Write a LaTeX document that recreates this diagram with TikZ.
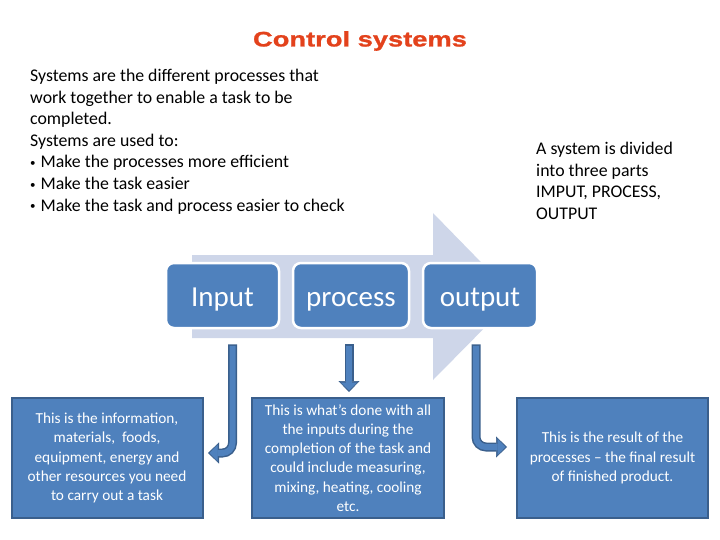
\documentclass[tikz,border=0pt]{standalone}
\usepackage{fontspec}
\setmainfont{Carlito}
\newfontfamily\titlefont[FakeStretch=1.3,FakeBold=1.2]{Liberation Sans}
\usetikzlibrary{arrows.meta,calc}
\definecolor{titlered}{HTML}{E3421C}
\definecolor{boxblue}{HTML}{4F81BD}
\definecolor{boxline}{HTML}{3A5F8C}
\definecolor{flowgray}{HTML}{CED6E9}
\newcommand{\dotitem}{\raisebox{1.5pt}{\fontsize{11}{11}\selectfont •}\hspace{5pt}}

\begin{document}
\begin{tikzpicture}[x=1pt,y=-1pt,
  stage/.style={draw=white,line width=2.5pt,fill=boxblue,rounded corners=8pt,text=white,
    font=\fontsize{29}{32}\selectfont,text height=24pt,text depth=3pt,minimum height=65pt},
  note/.style={draw=boxline,line width=2pt,fill=boxblue,text=white,align=center,
    font=\fontsize{15.3}{19.3}\selectfont,minimum height=120pt},
  arrowedge/.style={draw=boxline,line width=9pt,rounded corners=10pt,
    -{Triangle[length=11pt,width=21pt,line width=0.5pt]}},
  arrowfill/.style={draw=boxblue,line width=6pt,rounded corners=10pt,shorten <=1.5pt,
    -{Triangle[length=8pt,width=16pt,line width=0.5pt]}}]
  \useasboundingbox (0,0) rectangle (720,540);
  % heading and text
  \node[font=\titlefont\bfseries\fontsize{21}{25}\selectfont,text=titlered] (title) at (360,41) {Control systems};
  \node[anchor=north west,inner sep=0pt,align=left,font=\fontsize{17.8}{21.6}\selectfont] (intro) at (30,69)
    {Systems are the different processes that\\work together to enable a task to be\\completed.\\
     Systems are used to:\\\dotitem Make the processes more efficient\\\dotitem Make the task easier\\
     \dotitem Make the task and process easier to check};
  \node[anchor=north west,inner sep=0pt,align=left,font=\fontsize{17.8}{21.6}\selectfont] (parts) at (536,142)
    {A system is divided\\into three parts\\IMPUT, PROCESS,\\OUTPUT};
  % big arrow behind the stages
  \fill[flowgray] (192,255) -- (433,255) -- (433,213) -- (515,297) -- (433,380) -- (433,338) -- (192,338) -- cycle;
  \node[stage,minimum width=113pt] (inp) at (222.5,295.5) {Input};
  \node[stage,minimum width=116pt] (proc) at (351,295.5) {process};
  \node[stage,minimum width=114pt] (outp) at (480,295.5) {output};
  % explanations
  \node[note,minimum width=191pt] (inpinfo) at (107,458)
    {This is the information,\\materials,\ \ foods,\\equipment, energy and\\other resources you need\\to carry out a task};
  \node[note,minimum width=192pt] (procinfo) at (348,458)
    {This is what’s done with all\\the inputs during the\\completion of the task and\\could include measuring,\\mixing, heating, cooling\\etc.};
  \node[note,minimum width=191pt] (outpinfo) at (612.5,458)
    {This is the result of the\\processes – the final result\\of finished product.};
  % connectors
  \coordinate (ia) at ([xshift=10pt,yshift=-15pt]inp.south);
  \coordinate (pa) at ([xshift=-2pt,yshift=-15pt]proc.south);
  \coordinate (oa) at ([xshift=-4pt,yshift=-15pt]outp.south);
  \draw[arrowedge,shorten >=4.5pt] (ia) |- ([yshift=5pt]inpinfo.east);
  \draw[arrowfill,shorten >=6pt] (ia) |- ([yshift=5pt]inpinfo.east);
  \draw[arrowedge,shorten >=5pt] (pa) -- (pa |- procinfo.north);
  \draw[arrowfill,shorten >=6.5pt] (pa) -- (pa |- procinfo.north);
  \draw[arrowedge,shorten >=9pt] (oa) |- ([yshift=11pt]outpinfo.west);
  \draw[arrowfill,shorten >=10.5pt] (oa) |- ([yshift=11pt]outpinfo.west);
\end{tikzpicture}
\end{document}
